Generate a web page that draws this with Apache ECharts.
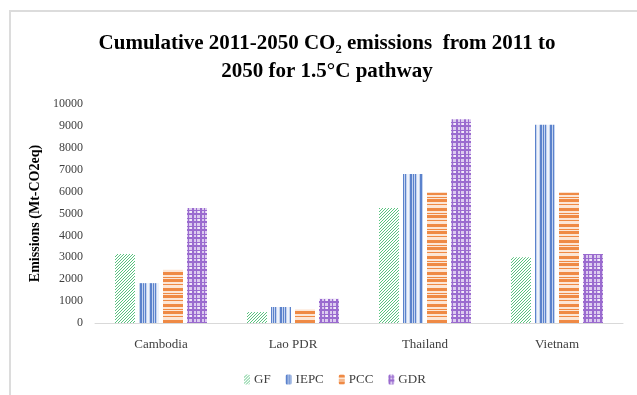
<!DOCTYPE html>
<html>
<head>
<meta charset="utf-8">
<script src="https://cdn.jsdelivr.net/npm/echarts@6/dist/echarts.min.js"></script>
<style>
  html, body { margin: 0; padding: 0; background: #fff; }
  #frame { position: absolute; left: 9px; top: 10px; width: 628px; height: 385px;
           border-top: 2px solid #dcdcdc; border-left: 2px solid #dcdcdc; box-sizing: border-box; }
  #chart { position: absolute; left: 0; top: 0; width: 637px; height: 395px; }
</style>
</head>
<body>
<div id="frame"></div>
<div id="chart"></div>
<script>
// Cumulative 2011-2050 emissions (Mt-CO2eq) by allocation approach
const countries = ['Cambodia', 'Lao PDR', 'Thailand', 'Vietnam'];
const gf   = [3150, 500, 5250, 3000];
const iepc = [1820, 730, 6800, 9050];
const pcc  = [2430, 600, 5950, 5950];
const gdr  = [5250, 1100, 9300, 3150];
const yTicks = [0, 1000, 2000, 3000, 4000, 5000, 6000, 7000, 8000, 9000, 10000];

// Small repeating tiles used as hatch fills
function tile(w, h, draw) {
  const c = document.createElement('canvas');
  c.width = w; c.height = h;
  const g = c.getContext('2d');
  g.fillStyle = '#ffffff';
  g.fillRect(0, 0, w, h);
  draw(g);
  return { image: c, repeat: 'repeat' };
}

const gfFill = tile(6, 6, g => {
  g.strokeStyle = 'rgba(60,185,105,0.85)';
  g.lineWidth = 1;
  for (let k = -6; k <= 12; k += 3) {
    g.beginPath(); g.moveTo(k, 6); g.lineTo(k + 6, 0); g.stroke();
  }
});

const iepcFill = tile(10, 4, g => {
  g.fillStyle = '#c5d4ef'; g.fillRect(0, 0, 10, 4);
  g.fillStyle = '#5b82cc';
  g.fillRect(0, 0, 2, 4); g.fillRect(3, 0, 1, 4); g.fillRect(5, 0, 1, 4);
  g.fillStyle = '#eef2fa'; g.fillRect(7, 0, 2, 4);
});

const pccFill = tile(4, 16, g => {
  g.fillStyle = '#fce6d6'; g.fillRect(0, 0, 4, 16);
  g.fillStyle = '#ef8a45';
  g.fillRect(0, 0, 4, 3); g.fillRect(0, 5, 4, 1); g.fillRect(0, 7, 4, 3); g.fillRect(0, 12, 4, 1);
});

const gdrFill = tile(8, 8, g => {
  g.fillStyle = '#dccbef'; g.fillRect(0, 0, 8, 8);
  g.fillStyle = '#9a6bcf';
  g.fillRect(0, 0, 2, 8); g.fillRect(4, 0, 1, 8);
  g.fillRect(0, 2, 8, 1); g.fillRect(0, 5, 8, 2);
  g.fillStyle = '#f3ecfa'; g.fillRect(6, 3, 2, 2);
});

const serif = '"Liberation Serif", "Times New Roman", serif';

function barSeries(name, data, fill) {
  return {
    name: name,
    type: 'bar',
    data: data,
    barWidth: 20,
    barGap: '20%',
    itemStyle: { color: fill },
    emphasis: { disabled: true }
  };
}

const chart = echarts.init(document.getElementById('chart'));
chart.setOption({
  animation: false,
  backgroundColor: 'transparent',
  title: {
    text: 'Cumulative 2011-2050 CO\u2082 emissions  from 2011 to\n2050 for 1.5\u00B0C pathway',
    left: 322,
    textAlign: 'center',
    top: 25,
    textStyle: { fontFamily: serif, fontSize: 21, fontWeight: 'bold', color: '#000', lineHeight: 28 }
  },
  legend: {
    top: 368,
    left: 239,
    itemWidth: 6,
    itemHeight: 10,
    itemGap: 15,
    textStyle: { fontFamily: serif, fontSize: 13, color: '#404040', padding: [0, 0, 0, -1] },
    data: ['GF', 'IEPC', 'PCC', 'GDR']
  },
  grid: { left: 95, right: 14, top: 104, bottom: 72, containLabel: false },
  xAxis: {
    type: 'category',
    data: countries,
    axisLine: { lineStyle: { color: '#d9d9d9', width: 1 } },
    axisTick: { show: false },
    axisLabel: { fontFamily: serif, fontSize: 13, color: '#404040', margin: 15 }
  },
  yAxis: {
    type: 'value',
    min: yTicks[0],
    max: yTicks[yTicks.length - 1],
    interval: 1000,
    name: 'Emissions (Mt-CO2eq)',
    nameLocation: 'middle',
    nameGap: 50,
    nameTextStyle: { fontFamily: serif, fontSize: 14, fontWeight: 'bold', color: '#000' },
    axisLine: { show: false },
    axisTick: { show: false },
    splitLine: { show: false },
    axisLabel: { fontFamily: serif, fontSize: 12, color: '#404040', margin: 12, formatter: v => String(v) }
  },
  series: [
    barSeries('GF', gf, gfFill),
    barSeries('IEPC', iepc, iepcFill),
    barSeries('PCC', pcc, pccFill),
    barSeries('GDR', gdr, gdrFill)
  ]
});
</script>
</body>
</html>
